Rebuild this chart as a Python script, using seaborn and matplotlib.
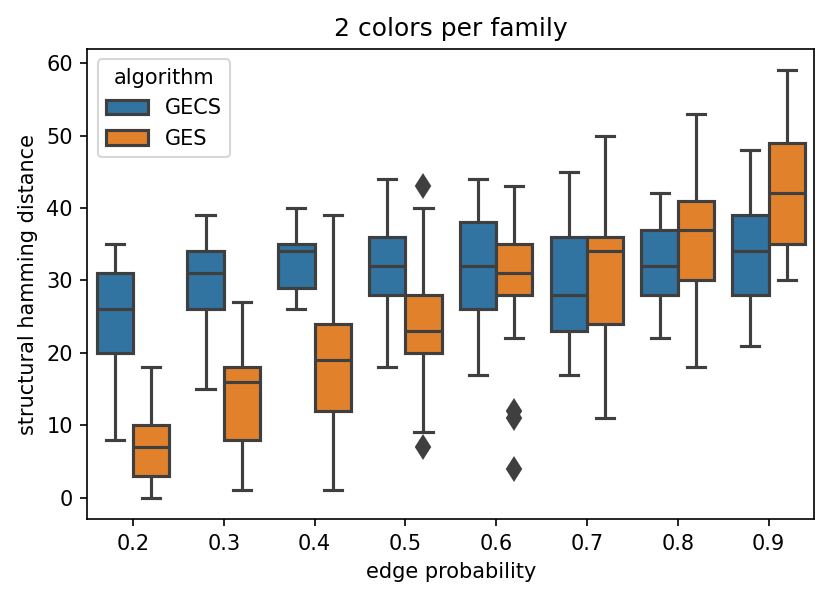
import pandas as pd
import matplotlib
matplotlib.use("Agg")
import matplotlib.pyplot as plt
import seaborn as sns

edge_probs = ["0.2", "0.3", "0.4", "0.5", "0.6", "0.7", "0.8", "0.9"]

# raw distances per edge probability
gecs = [
    [8, 20, 26, 31, 35],
    [15, 26, 31, 34, 39],
    [26, 29, 34, 35, 40],
    [18, 28, 32, 36, 44],
    [17, 26, 32, 38, 44],
    [17, 23, 28, 36, 45],
    [22, 28, 32, 37, 42],
    [21, 28, 34, 39, 48],
]
ges = [
    [0, 3, 7, 10, 18],
    [1, 8, 16, 18, 27],
    [1, 12, 19, 24, 39],
    [7, 9, 20, 20, 23, 28, 28, 40, 43],
    [4, 11, 12, 22, 28, 29, 30, 30, 31, 32, 33, 34, 35, 36, 40, 42, 43],
    [11, 24, 34, 36, 50],
    [18, 30, 37, 41, 53],
    [30, 35, 42, 49, 59],
]

rows = []
for p, vals in zip(edge_probs, gecs):
    for v in vals:
        rows.append({"edge probability": p, "structural hamming distance": v, "algorithm": "GECS"})
for p, vals in zip(edge_probs, ges):
    for v in vals:
        rows.append({"edge probability": p, "structural hamming distance": v, "algorithm": "GES"})
df = pd.DataFrame(rows)

fig, ax = plt.subplots(figsize=(830 / 150, 601 / 150), dpi=150)
sns.boxplot(data=df, x="edge probability", y="structural hamming distance",
            hue="algorithm", order=edge_probs, hue_order=["GECS", "GES"],
            palette=["#1f77b4", "#ff7f0e"], saturation=0.75,
            linecolor="#3f3f3f", linewidth=1.5, ax=ax,
            flierprops=dict(marker="d", markerfacecolor="#3f3f3f",
                            markeredgecolor="#3f3f3f", markersize=7.5))
ax.set_title("2 colors per family")
ax.set_yticks([0, 10, 20, 30, 40, 50, 60])
ax.legend(title="algorithm", loc="upper left")
plt.subplots_adjust(left=0.1054, right=0.9807, top=0.9185, bottom=0.1364)
plt.savefig("out.png", dpi=150)
